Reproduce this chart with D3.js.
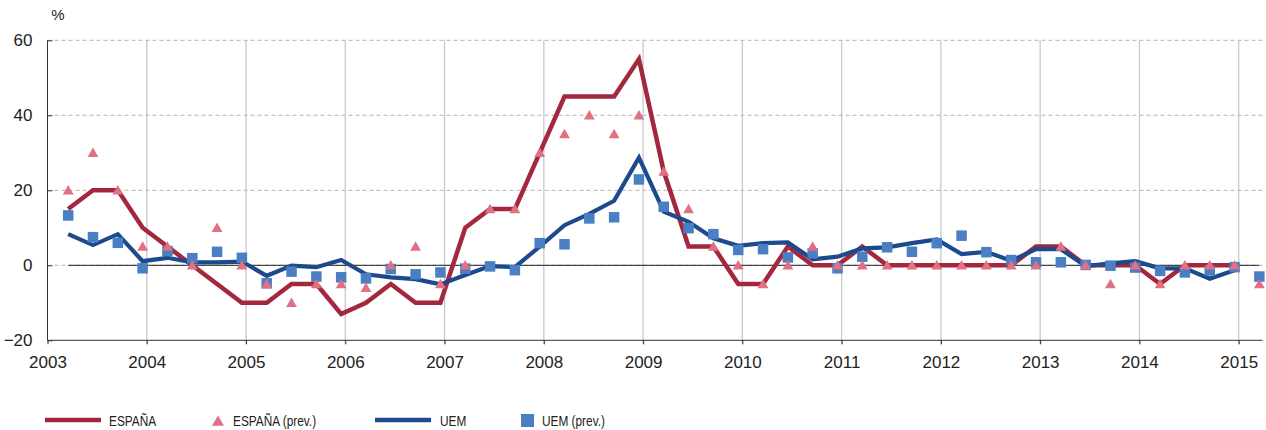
<!DOCTYPE html>
<html>
<head>
<meta charset="utf-8">
<script src="https://cdn.jsdelivr.net/npm/d3@7"></script>
<style>
  body { margin: 0; background: #fff; }
  text { font-family: "Liberation Sans", Arial, sans-serif; fill: #222; }
</style>
</head>
<body>
<div id="my_dataviz"></div>
<script>
//Data: quarterly, 2003 T1 to 2015 T1
var quarters = [
  "2003T1","2003T2","2003T3","2003T4",
  "2004T1","2004T2","2004T3","2004T4",
  "2005T1","2005T2","2005T3","2005T4",
  "2006T1","2006T2","2006T3","2006T4",
  "2007T1","2007T2","2007T3","2007T4",
  "2008T1","2008T2","2008T3","2008T4",
  "2009T1","2009T2","2009T3","2009T4",
  "2010T1","2010T2","2010T3","2010T4",
  "2011T1","2011T2","2011T3","2011T4",
  "2012T1","2012T2","2012T3","2012T4",
  "2013T1","2013T2","2013T3","2013T4",
  "2014T1","2014T2","2014T3","2014T4",
  "2015T1"
];
var espana = [
  15, 20, 20, 10,
  5, 0, -5, -10,
  -10, -5, -5, -13,
  -10, -5, -10, -10,
  10, 15, 15, 30,
  45, 45, 45, 55,
  25, 5, 5, -5,
  -5, 5, 0, 0,
  5, 0, 0, 0,
  0, 0, 0, 5,
  5, 0, 0, 0,
  -5, 0, 0, 0
];
var espanaPrev = [
  20, 30, 20, 5,
  5, 0, 10, 0,
  -5, -10, -5, -5,
  -6, 0, 5, -5,
  0, 15, 15, 30,
  35, 40, 35, 40,
  25, 15, 5, 0,
  -5, 0, 5, 0,
  0, 0, 0, 0,
  0, 0, 0, 0,
  5, 0, -5, 0,
  -5, 0, 0, 0,
  -5
];
var uem = [
  8.3, 5.4, 8.3, 1.1,
  2.0, 0.8, 0.8, 1.0,
  -2.8, -0.1, -0.5, 1.4,
  -2.4, -3.2, -3.7, -5.1,
  -2.6, -0.2, -0.5, 5.0,
  10.7, 13.7, 17.2, 28.7,
  14.3, 11.6, 7.2, 5.2,
  5.9, 6.1, 1.6, 2.3,
  4.5, 4.8, 5.9, 6.9,
  3.0, 3.6, 1.2, 4.3,
  4.3, -0.2, 0.5, 1.1,
  -0.8, -0.8, -3.6, -1.3
];
var uemPrev = [
  13.3, 7.5, 6.0, -0.8,
  3.8, 1.9, 3.6, 2.0,
  -4.8, -1.7, -3.0, -3.2,
  -3.5, -1.0, -2.4, -1.9,
  -0.9, -0.3, -1.3, 5.9,
  5.6, 12.5, 12.8, 22.9,
  15.6, 9.9, 8.3, 4.1,
  4.3, 2.1, 3.2, -0.8,
  2.3, 4.8, 3.6, 5.9,
  7.9, 3.5, 1.4, 0.8,
  0.8, 0.1, -0.1, -0.6,
  -1.5, -1.9, -1.4, -0.5,
  -3.0
];
var years = [2003, 2004, 2005, 2006, 2007, 2008, 2009, 2010, 2011, 2012, 2013, 2014, 2015];
var yTicks = [-20, 0, 20, 40, 60];
var legendItems = ["ESPAÑA", "ESPAÑA (prev.)", "UEM", "UEM (prev.)"];

//Colors
var red = "#a3283d", pink = "#e07082", blue = "#1c4a8c", lightBlue = "#4a7fc4";

//SVG
var width = 1266, height = 430;
var svg = d3.select("#my_dataviz")
  .append("svg")
    .attr("width", width)
    .attr("height", height);

//Quarter label -> decimal date (middle of the last month of the quarter)
function qDate(q) {
  var yr = +q.slice(0, 4), n = +q.slice(5);
  return yr + (n * 3 - 0.5) / 12;
}

//Scales
var x = d3.scaleLinear()
  .domain([2003, 2015.24])
  .range([47.5, 1262.5]);
var y = d3.scaleLinear()
  .domain([-20, 60])
  .range([340.3, 40.3]);

//Vertical grid (years)
svg.append("g")
  .selectAll("line")
  .data(years.slice(1))
  .enter()
  .append("line")
    .attr("x1", function(d) { return x(d); })
    .attr("x2", function(d) { return x(d); })
    .attr("y1", y(60))
    .attr("y2", y(-20) + 4)
    .attr("stroke", "#c9c9c9")
    .attr("stroke-width", 1.3);

//Horizontal dashed grid
svg.append("g")
  .selectAll("line")
  .data(yTicks.filter(function(d) { return d > -20; }))
  .enter()
  .append("line")
    .attr("x1", x(2003))
    .attr("x2", x.range()[1])
    .attr("y1", function(d) { return y(d); })
    .attr("y2", function(d) { return y(d); })
    .attr("stroke", "#b5b5b5")
    .attr("stroke-width", 1)
    .attr("stroke-dasharray", "4,3");

//Zero line across the data range
svg.append("line")
  .attr("x1", x(qDate(quarters[0])))
  .attr("x2", x(qDate(quarters[quarters.length - 1])))
  .attr("y1", y(0))
  .attr("y2", y(0))
  .attr("stroke", "#222")
  .attr("stroke-width", 1);

//Axes
var xAxis = d3.axisBottom(x)
  .tickValues(years)
  .tickFormat(d3.format("d"))
  .tickSize(4)
  .tickPadding(12);
var gx = svg.append("g")
  .attr("transform", "translate(0," + y(-20) + ")")
  .call(xAxis);
gx.select(".domain").attr("stroke", "#333").attr("d", "M" + x.range()[0] + ",0H" + x.range()[1]);
gx.selectAll(".tick line").attr("stroke", "#333");
gx.selectAll(".tick text")
  .style("font-family", "Liberation Sans, Arial, sans-serif")
  .style("font-size", "17px")
  .attr("fill", "#222");

var yAxis = d3.axisLeft(y)
  .tickValues(yTicks)
  .tickSize(-5)
  .tickPadding(15);
var gy = svg.append("g")
  .attr("transform", "translate(" + x(2003) + ",0)")
  .call(yAxis);
gy.select(".domain").attr("stroke", "#333").attr("d", "M0," + y(60) + "V" + y(-20));
gy.selectAll(".tick line").attr("stroke", "#333");
gy.selectAll(".tick text")
  .style("font-family", "Liberation Sans, Arial, sans-serif")
  .style("font-size", "17px")
  .attr("fill", "#222");

//Unit label
svg.append("text")
  .attr("x", 58)
  .attr("y", 20)
  .attr("text-anchor", "middle")
  .style("font-size", "15px")
  .text("%");

//Lines
var line = d3.line()
  .x(function(d, i) { return x(qDate(quarters[i])); })
  .y(function(d) { return y(d); });

svg.append("path")
  .datum(espana)
  .attr("fill", "none")
  .attr("stroke", red)
  .attr("stroke-width", 4.5)
  .attr("stroke-linejoin", "miter")
  .attr("d", line);

svg.append("path")
  .datum(uem)
  .attr("fill", "none")
  .attr("stroke", blue)
  .attr("stroke-width", 4.2)
  .attr("stroke-linejoin", "miter")
  .attr("d", line);

//Markers
var sq = 10.5;
svg.append("g")
  .selectAll("rect")
  .data(uemPrev)
  .enter()
  .append("rect")
    .attr("x", function(d, i) { return x(qDate(quarters[i])) - sq / 2; })
    .attr("y", function(d) { return y(d) - sq / 2; })
    .attr("width", sq)
    .attr("height", sq)
    .attr("fill", lightBlue);

var tri = "M0,-5.2L5.4,4.3L-5.4,4.3Z";
svg.append("g")
  .selectAll("path")
  .data(espanaPrev)
  .enter()
  .append("path")
    .attr("transform", function(d, i) { return "translate(" + x(qDate(quarters[i])) + "," + y(d) + ")"; })
    .attr("d", tri)
    .attr("fill", pink);

//Legend
var legend = svg.append("g").attr("class", "legend");
legend.append("line")
  .attr("x1", 45).attr("x2", 101).attr("y1", 420).attr("y2", 420)
  .attr("stroke", red).attr("stroke-width", 4.5);
legend.append("path")
  .attr("transform", "translate(218,421)")
  .attr("d", "M0,-5.5L6,4.8L-6,4.8Z")
  .attr("fill", pink);
legend.append("line")
  .attr("x1", 375).attr("x2", 431).attr("y1", 420).attr("y2", 420)
  .attr("stroke", blue).attr("stroke-width", 4.5);
legend.append("rect")
  .attr("x", 521).attr("y", 414).attr("width", 13).attr("height", 13)
  .attr("fill", lightBlue);

//Legend labels use a condensed face: squeeze the regular one horizontally
var legendX = [109, 233, 440, 542];
legend.selectAll("text")
  .data(legendItems)
  .enter()
  .append("text")
    .attr("transform", function(d, i) { return "translate(" + legendX[i] + ",426) scale(0.79,1)"; })
    .style("font-size", "15px")
    .attr("fill", "#333")
    .text(function(d) { return d; });
</script>
</body>
</html>
